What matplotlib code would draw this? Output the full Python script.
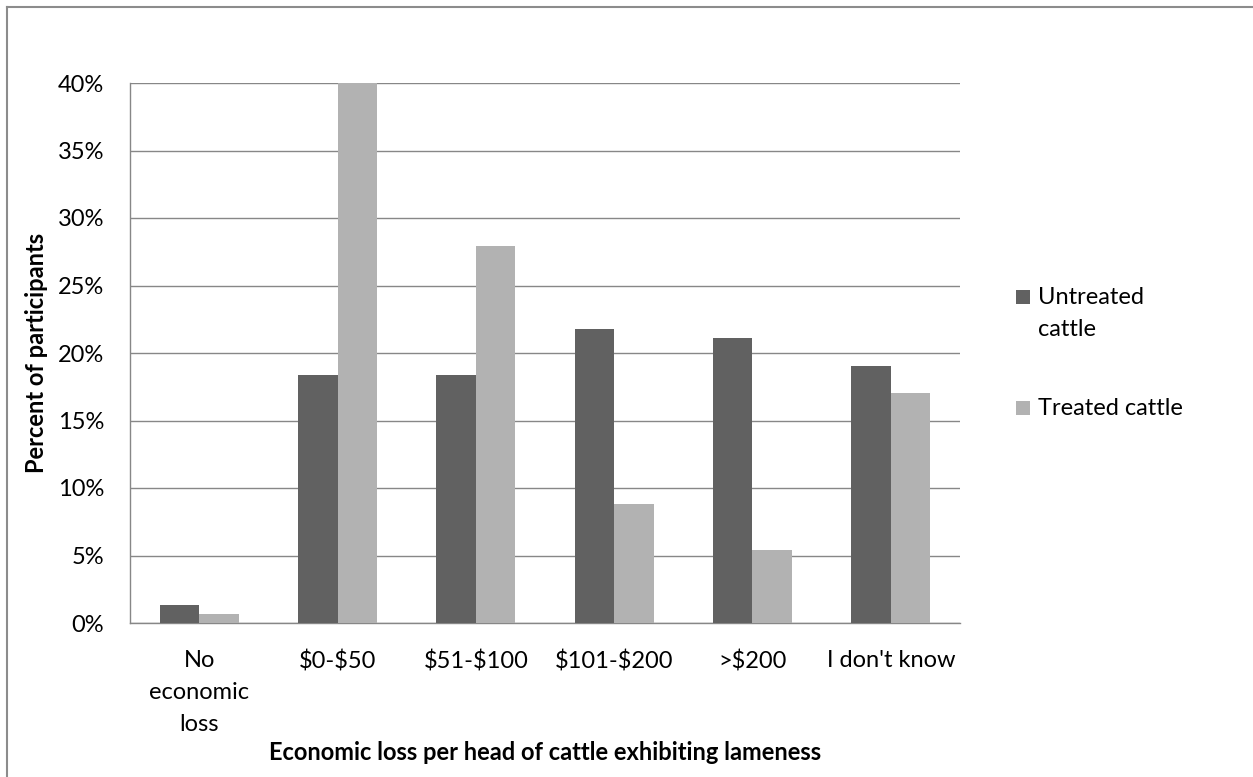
import matplotlib.pyplot as plt
import numpy as np
from matplotlib.lines import Line2D
from matplotlib.patches import Rectangle
from matplotlib.ticker import FuncFormatter

plt.rcParams['font.family'] = ['Lato', 'DejaVu Sans']

# data (percent of participants)
categories = ['No\neconomic\nloss', '$0-$50', '$51-$100', '$101-$200', '>$200', "I don't know"]
untreated = [1.36, 18.37, 18.37, 21.77, 21.09, 19.05]
treated = [0.68, 40.14, 27.89, 8.84, 5.44, 17.01]
series_names = ['Untreated\ncattle', 'Treated cattle']

dark = '#616161'
light = '#b2b2b2'
grid_col = '#878787'
fs = 17

W, H = 1253, 777
fig = plt.figure(figsize=(W / 100, H / 100), dpi=100)
ax = fig.add_axes([130 / W, 1 - 623 / H, 830 / W, 540 / H])

x = np.arange(len(categories))
w = 1 / 3.5
ax.bar(x - w / 2, untreated, w, color=dark, zorder=3)
ax.bar(x + w / 2, treated, w, color=light, zorder=3)

ax.set_xlim(-0.5, len(categories) - 0.5)
ax.set_ylim(0, 40)
ax.set_yticks(np.arange(0, 41, 5))
ax.yaxis.set_major_formatter(FuncFormatter(lambda v, p: f'{v:.0f}%'))
ax.set_xticks(x)
ax.set_xticklabels(categories)
for t in ax.get_xticklabels():
    t.set_parse_math(False)
    t.set_linespacing(1.65)

ax.grid(axis='y', color=grid_col, linewidth=1.0, zorder=0)
ax.tick_params(axis='y', length=0, pad=18.5, labelsize=fs)
ax.tick_params(axis='x', length=0, pad=19.5, labelsize=fs)
for s in ['top', 'right']:
    ax.spines[s].set_visible(False)
for s in ['left', 'bottom']:
    ax.spines[s].set_color(grid_col)
    ax.spines[s].set_linewidth(1.0)

fig.text(545 / W, 1 - 752 / H, 'Economic loss per head of cattle exhibiting lameness',
         ha='center', va='center', fontsize=fs, fontweight='bold')
fig.text(37 / W, 1 - 353 / H, 'Percent of participants', rotation=90,
         ha='center', va='center', fontsize=fs, fontweight='bold')

# legend, handles aligned with the first text line as in the original
leg_y = [297, 408]
for col, name, yy in zip([dark, light], series_names, leg_y):
    fig.add_artist(Rectangle((1016 / W, 1 - (yy + 7) / H), 14 / W, 14 / H,
                             facecolor=col, edgecolor='none', transform=fig.transFigure))
    fig.text(1038 / W, 1 - (yy - 10) / H, name, ha='left', va='top',
             fontsize=fs, linespacing=1.65)

# outer chart border
fig.add_artist(Line2D([7 / W, 7 / W], [0, 1 - 7 / H], color='#8c8c8c', lw=1.5))
fig.add_artist(Line2D([7 / W, 1], [1 - 7 / H, 1 - 7 / H], color='#8c8c8c', lw=1.5))

fig.savefig('out.png', dpi=100)
